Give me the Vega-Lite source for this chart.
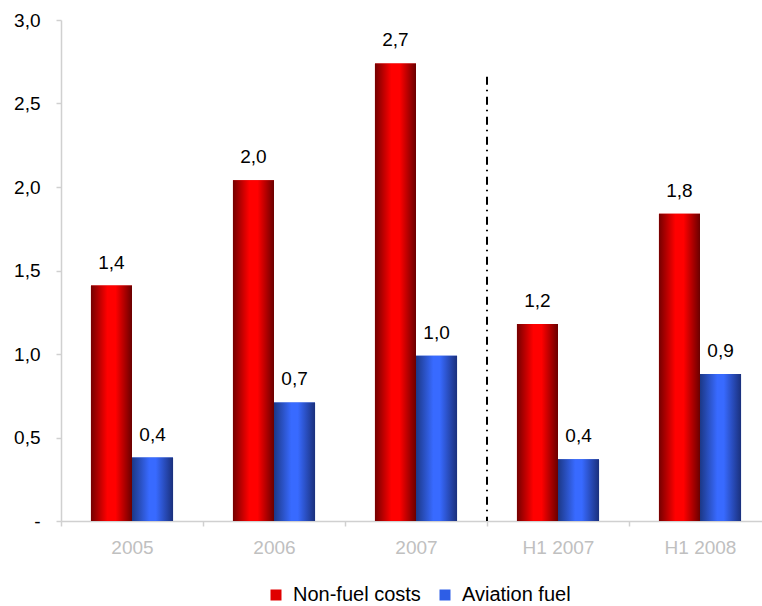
{
  "$schema": "https://vega.github.io/schema/vega-lite/v6.json",
  "width": 701,
  "height": 501,
  "autosize": {"type": "none"},
  "padding": {"left": 61, "top": 20, "right": 0, "bottom": 85},
  "background": "white",
  "config": {
    "view": {"stroke": null},
    "font": "Liberation Sans",
    "axis": {"grid": false},
    "locale": {
      "number": {"decimal": ",", "thousands": ".", "grouping": [3], "currency": ["", " €"]}
    }
  },
  "datasets": {
    "costs": [
      {"period": "2005", "series": "Non-fuel costs", "value": 1.41},
      {"period": "2005", "series": "Aviation fuel", "value": 0.38},
      {"period": "2006", "series": "Non-fuel costs", "value": 2.04},
      {"period": "2006", "series": "Aviation fuel", "value": 0.71},
      {"period": "2007", "series": "Non-fuel costs", "value": 2.74},
      {"period": "2007", "series": "Aviation fuel", "value": 0.99},
      {"period": "H1 2007", "series": "Non-fuel costs", "value": 1.18},
      {"period": "H1 2007", "series": "Aviation fuel", "value": 0.37},
      {"period": "H1 2008", "series": "Non-fuel costs", "value": 1.84},
      {"period": "H1 2008", "series": "Aviation fuel", "value": 0.88}
    ],
    "divider": [
      {"period": "H1 2007", "top": 2.66}
    ]
  },
  "layer": [
    {
      "data": {"name": "costs"},
      "mark": {"type": "bar"},
      "encoding": {
        "x": {
          "field": "period", "type": "nominal", "sort": null,
          "scale": {"range": [0, 710], "paddingInner": 0, "paddingOuter": 0},
          "axis": {
            "title": null, "labelAngle": 0, "tickBand": "extent",
            "domainColor": "#d0d0d0", "domainWidth": 1.5,
            "tickColor": "#d0d0d0", "tickSize": 5, "tickWidth": 1.5,
            "labelColor": "#c0c0c0", "labelFontSize": 19, "labelPadding": 12
          }
        },
        "xOffset": {
          "field": "series", "type": "nominal",
          "sort": ["Non-fuel costs", "Aviation fuel"],
          "scale": {"paddingOuter": 0.73, "paddingInner": 0}
        },
        "y": {
          "field": "value", "type": "quantitative",
          "scale": {"domain": [0, 3], "nice": false},
          "axis": {
            "title": null, "values": [0, 0.5, 1, 1.5, 2, 2.5, 3],
            "format": ".1f",
            "labelExpr": "datum.value == 0 ? '-' : datum.label",
            "domainColor": "#d0d0d0", "domainWidth": 1.5,
            "tickColor": "#d0d0d0", "tickSize": 5, "tickWidth": 1.5,
            "labelColor": "#000000", "labelFontSize": 19, "labelPadding": 16
          }
        },
        "color": {
          "field": "series", "type": "nominal",
          "scale": {
            "domain": ["Non-fuel costs", "Aviation fuel"],
            "range": ["#e00000", "#2e5ee6"]
          },
          "legend": {
            "title": null, "orient": "none", "direction": "horizontal",
            "legendX": 205, "legendY": 565,
            "symbolType": "square", "symbolSize": 121, "symbolStrokeWidth": 0,
            "symbolOpacity": 1,
            "labelFontSize": 20, "labelColor": "#000000", "labelOffset": 7,
            "columnPadding": 14
          }
        }
      }
    },
    {
      "data": {"name": "costs"},
      "mark": {"type": "bar"},
      "encoding": {
        "x": {"field": "period", "type": "nominal", "sort": null},
        "xOffset": {"field": "series", "type": "nominal", "sort": ["Non-fuel costs", "Aviation fuel"]},
        "y": {"field": "value", "type": "quantitative"},
        "fill": {
          "condition": {
            "test": "datum.series === 'Non-fuel costs'",
            "value": {"gradient": "linear", "x1": 0, "y1": 0, "x2": 1, "y2": 0,
              "stops": [
                {"offset": 0, "color": "#750000"},
                {"offset": 0.4, "color": "#ff0000"},
                {"offset": 0.6, "color": "#ff0000"},
                {"offset": 1, "color": "#6a0000"}
              ]}
          },
          "value": {"gradient": "linear", "x1": 0, "y1": 0, "x2": 1, "y2": 0,
            "stops": [
              {"offset": 0, "color": "#1c3886"},
              {"offset": 0.42, "color": "#386aff"},
              {"offset": 0.58, "color": "#386aff"},
              {"offset": 1, "color": "#1a307c"}
            ]}
        }
      }
    },
    {
      "data": {"name": "costs"},
      "mark": {"type": "text", "dy": -23, "baseline": "middle", "fontSize": 19, "color": "#000000"},
      "encoding": {
        "x": {"field": "period", "type": "nominal", "sort": null},
        "xOffset": {"field": "series", "type": "nominal", "sort": ["Non-fuel costs", "Aviation fuel"]},
        "y": {"field": "value", "type": "quantitative"},
        "text": {"field": "value", "type": "quantitative", "format": ".1f"}
      }
    },
    {
      "data": {"name": "divider"},
      "mark": {"type": "rule", "color": "#000000", "strokeWidth": 2, "strokeDash": [8, 5, 1.5, 5.5]},
      "encoding": {
        "x": {"field": "period", "type": "nominal", "bandPosition": 0},
        "y": {"field": "top", "type": "quantitative"},
        "y2": {"datum": 0}
      }
    }
  ]
}
